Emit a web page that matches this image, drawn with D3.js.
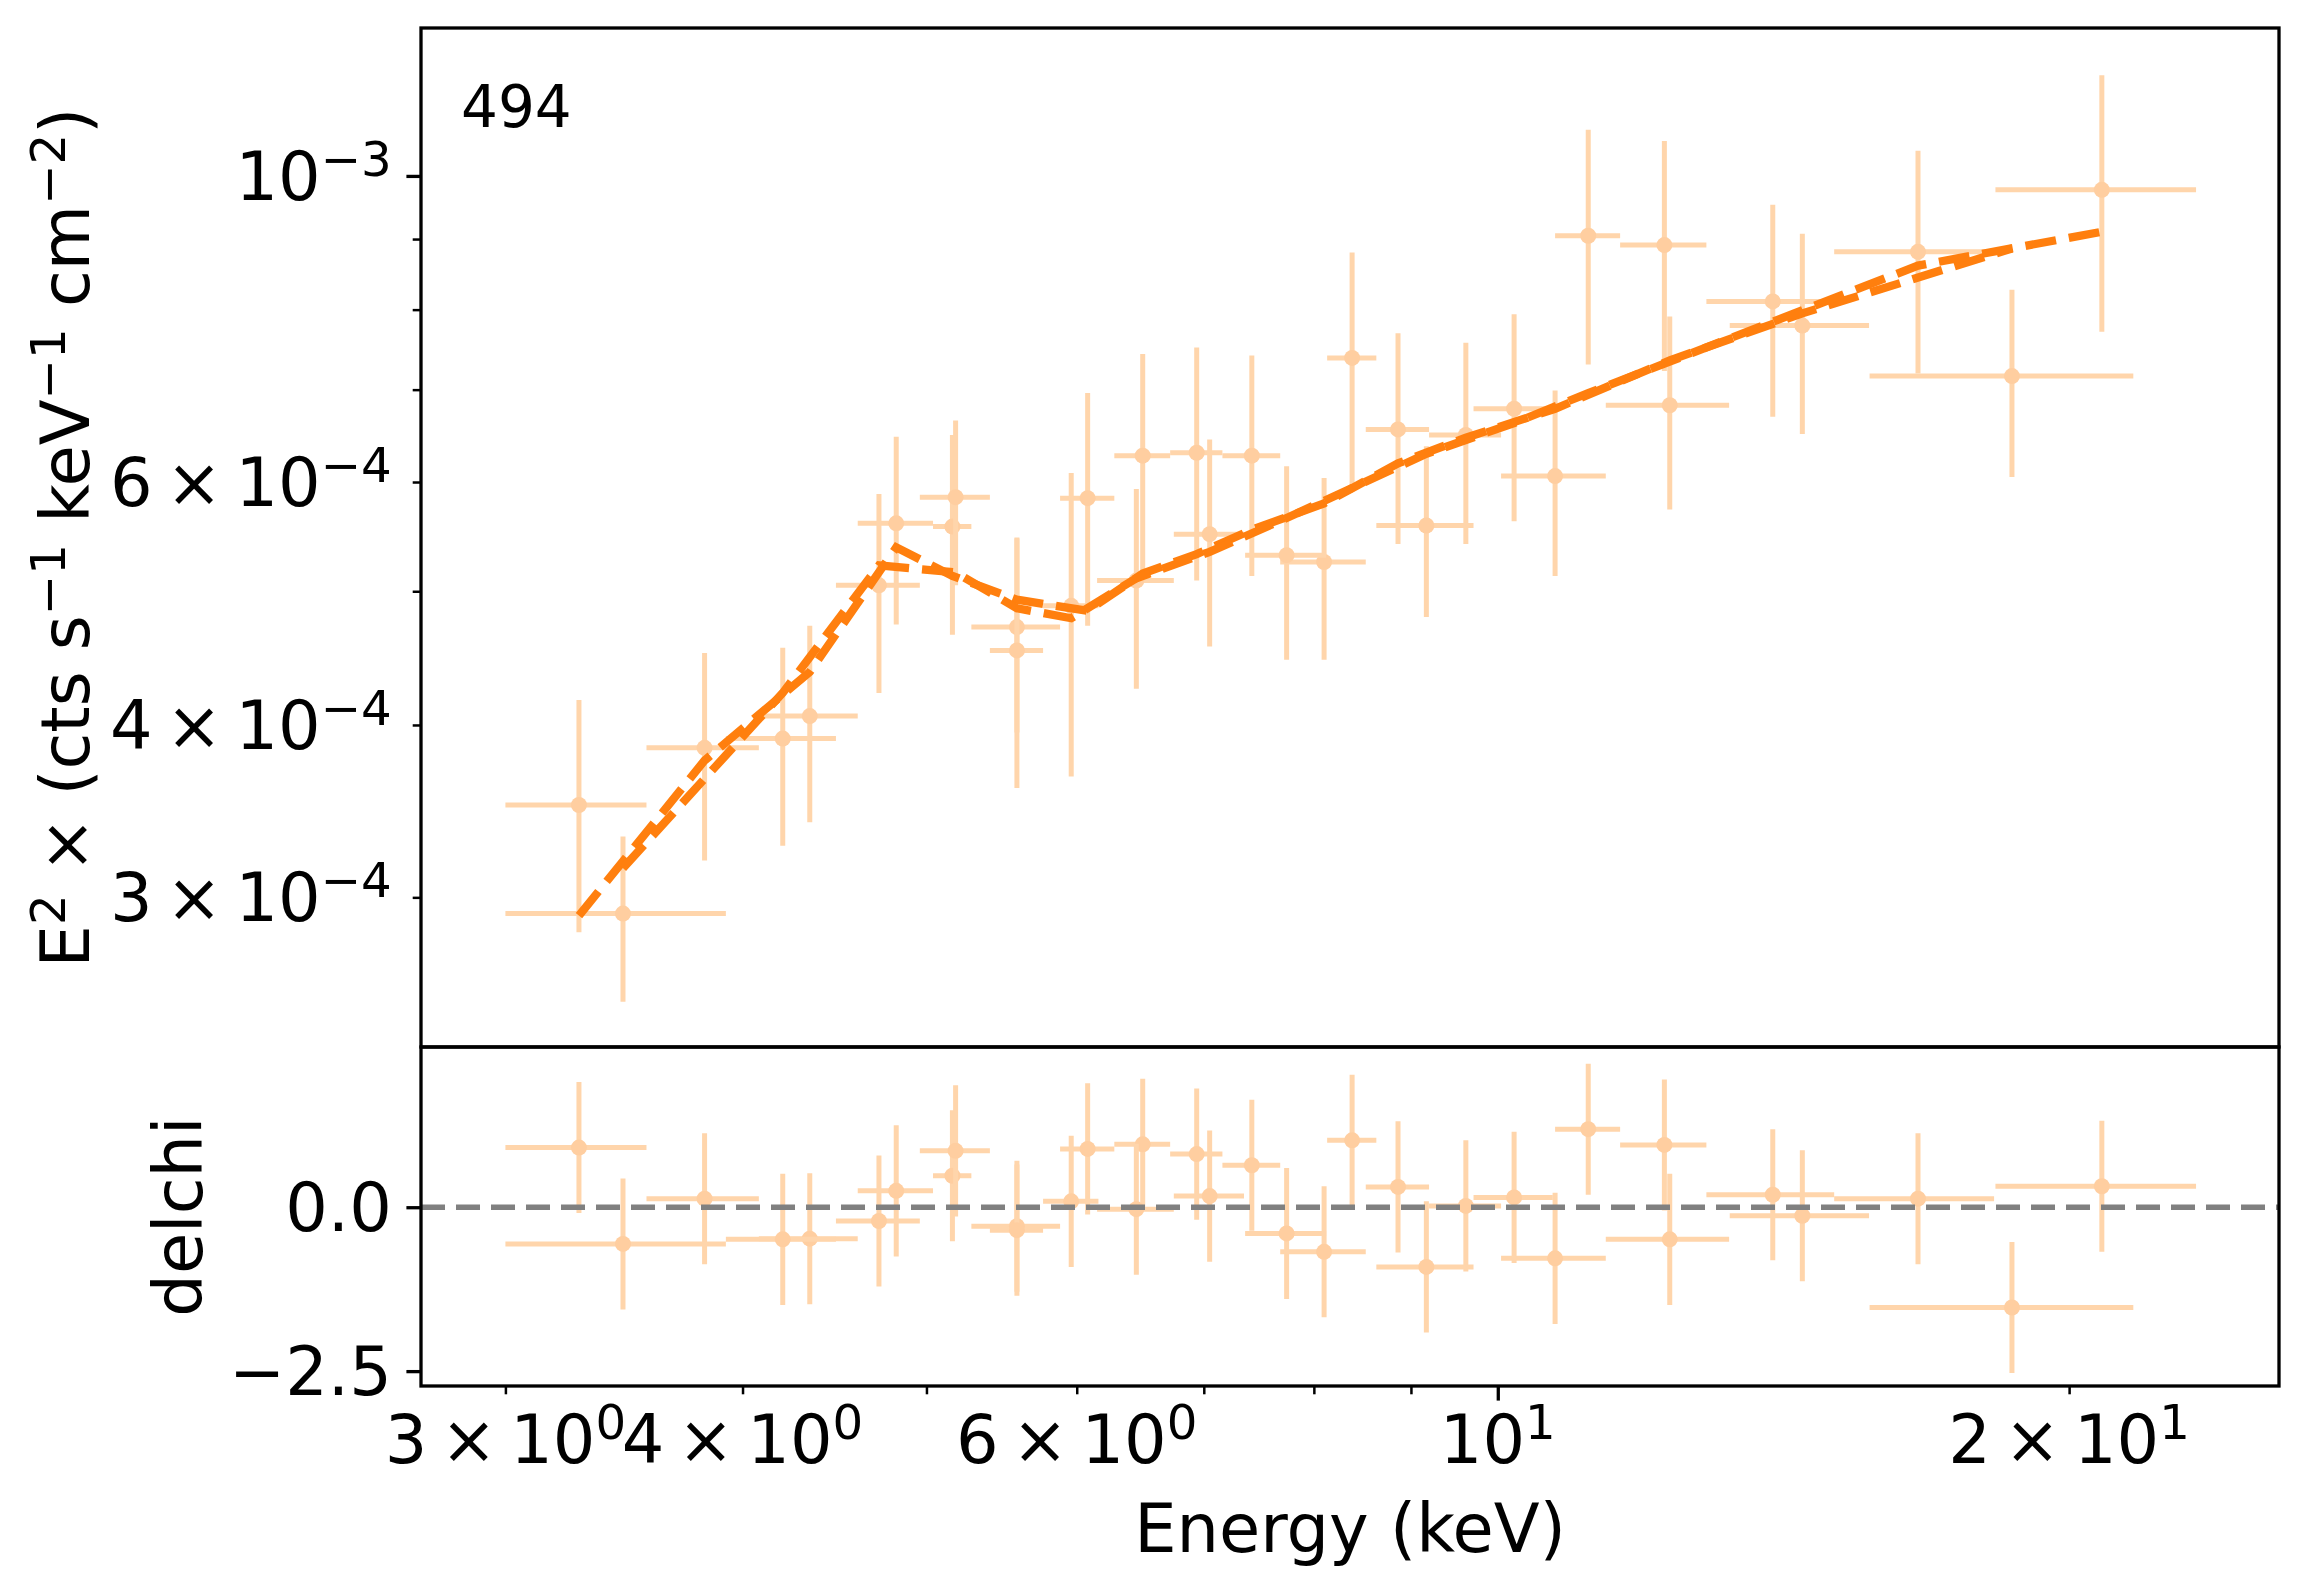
<!DOCTYPE html>
<html>
<head>
<meta charset="utf-8">
<script src="https://cdn.jsdelivr.net/npm/d3@7"></script>
<style>
  html, body { margin: 0; padding: 0; background: #fff; }
  svg { display: block; font-family: "DejaVu Sans", sans-serif; }
</style>
</head>
<body>
<svg id="chart" width="2310" height="1596"></svg>
<script>
'use strict';

// Spectrum A (bins joined by the first model line)
var energyA = [3.28, 3.82, 4.34, 4.82, 5.16, 5.58, 6.08, 6.50, 6.94, 7.42, 8.10, 8.86, 9.62, 10.72, 12.32, 14.47, 18.66];
var halfWidthA = [0.28, 0.26, 0.26, 0.22, 0.12, 0.30, 0.20, 0.22, 0.22, 0.26, 0.42, 0.34, 0.42, 0.68, 0.92, 1.22, 2.96];
var fluxA = [3.50e-4, 3.85e-4, 4.06e-4, 5.60e-4, 5.57e-4, 4.71e-4, 5.84e-4, 6.27e-4, 6.30e-4, 6.27e-4, 5.25e-4, 6.55e-4, 6.49e-4, 6.06e-4, 6.82e-4, 7.79e-4, 7.16e-4];
var fluxErrA = [0.67e-4, 0.66e-4, 0.66e-4, 0.87e-4, 0.92e-4, 0.76e-4, 1.12e-4, 1.16e-4, 1.21e-4, 1.14e-4, 0.79e-4, 1.14e-4, 1.08e-4, 0.93e-4, 1.09e-4, 1.29e-4, 1.11e-4];
var modelA = [2.91e-4, 3.77e-4, 4.37e-4, 5.38e-4, 5.13e-4, 4.93e-4, 4.84e-4, 5.15e-4, 5.32e-4, 5.54e-4, 5.79e-4, 6.19e-4, 6.46e-4, 6.78e-4, 7.35e-4, 7.95e-4, 8.86e-4];
var delchiA = [0.91, 0.13, -0.48, 0.25, 0.48, -0.29, 0.89, 0.96, 0.81, 0.64, -0.68, 0.31, 0.02, -0.78, -0.49, -0.13, -1.53];

// Spectrum B (bins joined by the second model line)
var energyB = [3.46, 4.20, 4.72, 5.18, 5.58, 5.96, 6.45, 7.05, 7.74, 8.38, 9.17, 10.20, 11.16, 12.24, 13.96, 16.65, 20.81];
var halfWidthB = [0.46, 0.28, 0.24, 0.22, 0.18, 0.20, 0.30, 0.30, 0.38, 0.25, 0.54, 0.49, 0.44, 0.64, 1.08, 1.61, 2.52];
var fluxB = [2.92e-4, 3.91e-4, 5.05e-4, 5.85e-4, 4.53e-4, 4.88e-4, 5.09e-4, 5.50e-4, 5.31e-4, 7.38e-4, 5.58e-4, 6.78e-4, 9.05e-4, 8.91e-4, 8.11e-4, 8.81e-4, 9.77e-4];
var fluxErrB = [0.40e-4, 0.64e-4, 0.83e-4, 0.80e-4, 0.93e-4, 1.21e-4, 0.84e-4, 0.94e-4, 0.85e-4, 1.42e-4, 0.79e-4, 1.16e-4, 1.75e-4, 1.69e-4, 1.42e-4, 1.62e-4, 2.06e-4];
var modelB = [3.15e-4, 4.22e-4, 5.22e-4, 5.16e-4, 4.86e-4, 4.78e-4, 5.11e-4, 5.34e-4, 5.65e-4, 5.94e-4, 6.29e-4, 6.62e-4, 6.96e-4, 7.31e-4, 7.84e-4, 8.61e-4, 9.11e-4];
var delchiB = [-0.56, -0.49, -0.21, 0.86, -0.35, 0.09, -0.03, 0.17, -0.40, 1.02, -0.91, 0.15, 1.19, 0.95, 0.19, 0.13, 0.32];

// Tick values and labels
var xMajorTicks = [10];
var xLabelTicks = [3, 4, 6, 10, 20];
var xLabelMant = ['3', '4', '6', '', '2'];
var xLabelExp = ['0', '0', '0', '1', '1'];
var xMinorTicks = [3, 4, 5, 6, 7, 8, 9, 20];

var yMajorTicks = [1e-3];
var yLabelTicks = [3e-4, 4e-4, 6e-4, 1e-3];
var yLabelMant = ['3', '4', '6', ''];
var yLabelExp = ['\u22124', '\u22124', '\u22124', '\u22123'];
var yMinorTicks = [3e-4, 4e-4, 5e-4, 6e-4, 7e-4, 8e-4, 9e-4];

var resTicks = [-2.5, 0];
var resTickText = ['\u22122.5', '0.0'];

var panelTag = '494';

// ---- layout ----
var L = 421, R = 2279, T = 28, M = 1047, B = 1386;
var FS = 67;          // tick / label font size
var MAJ = 14.6, MIN = 8.3, PAD = 14.6;
var dataColor = '#ffd5ab', markColor = '#ffcea0', modelColor = '#ff7f0e';

var svg = d3.select('#chart');
svg.append('rect').attr('width', 2310).attr('height', 1596).attr('fill', '#fff');

var x = d3.scaleLog().domain([2.708, 25.8]).range([L, R]);
var yMain = d3.scaleLog().domain([2.337e-4, 1.28e-3]).range([M, T]);
var yRes = d3.scaleLinear().domain([-2.727, 2.444]).range([B, M]);

var defs = svg.append('defs');
defs.append('clipPath').attr('id', 'clipMain')
    .append('rect').attr('x', L).attr('y', T).attr('width', R - L).attr('height', M - T);
defs.append('clipPath').attr('id', 'clipRes')
    .append('rect').attr('x', L).attr('y', M).attr('width', R - L).attr('height', B - M);

function rows(e, hw, v, err, mod) {
    return e.map(function(d, i) {
        return {e: d, hw: hw[i], v: v[i], err: err[i], m: mod ? mod[i] : null};
    });
}

var mainA = rows(energyA, halfWidthA, fluxA, fluxErrA, modelA);
var mainB = rows(energyB, halfWidthB, fluxB, fluxErrB, modelB);
var resA = rows(energyA, halfWidthA, delchiA, energyA.map(function() { return 1; }));
var resB = rows(energyB, halfWidthB, delchiB, energyB.map(function() { return 1; }));

function drawErrorbars(g, data, y) {
    var pts = g.append('g');
    pts.selectAll('line.xerr').data(data).enter().append('line')
        .attr('x1', function(d) { return x(d.e - d.hw); })
        .attr('x2', function(d) { return x(d.e + d.hw); })
        .attr('y1', function(d) { return y(d.v); })
        .attr('y2', function(d) { return y(d.v); })
        .attr('stroke', dataColor).attr('stroke-width', 5);
    pts.selectAll('line.yerr').data(data).enter().append('line')
        .attr('x1', function(d) { return x(d.e); })
        .attr('x2', function(d) { return x(d.e); })
        .attr('y1', function(d) { return y(d.v - d.err); })
        .attr('y2', function(d) { return y(d.v + d.err); })
        .attr('stroke', dataColor).attr('stroke-width', 5);
    pts.selectAll('circle').data(data).enter().append('circle')
        .attr('cx', function(d) { return x(d.e); })
        .attr('cy', function(d) { return y(d.v); })
        .attr('r', 8)
        .attr('fill', markColor);
}

// ---- main panel ----
var gMain = svg.append('g').attr('clip-path', 'url(#clipMain)');
drawErrorbars(gMain, mainA, yMain);
drawErrorbars(gMain, mainB, yMain);

var modelLine = d3.line()
    .x(function(d) { return x(d.e); })
    .y(function(d) { return yMain(d.m); });

[mainA, mainB].forEach(function(set) {
    gMain.append('path')
        .datum(set)
        .attr('d', modelLine)
        .attr('fill', 'none')
        .attr('stroke', modelColor)
        .attr('stroke-width', 8.3)
        .attr('stroke-dasharray', '31,13');
});

// ---- residual panel ----
var gRes = svg.append('g').attr('clip-path', 'url(#clipRes)');
drawErrorbars(gRes, resA, yRes);
drawErrorbars(gRes, resB, yRes);
gRes.append('line')
    .attr('x1', L).attr('x2', R)
    .attr('y1', yRes(0)).attr('y2', yRes(0))
    .attr('stroke', '#808080').attr('stroke-width', 5.5)
    .attr('stroke-dasharray', '24,11');

// ---- frames ----
[[T, M], [M, B]].forEach(function(p) {
    svg.append('rect')
        .attr('x', L).attr('y', p[0]).attr('width', R - L).attr('height', p[1] - p[0])
        .attr('fill', 'none').attr('stroke', '#000').attr('stroke-width', 3.3);
});

// ---- axes ----
function styleTicks(g, w) {
    g.select('.domain').remove();
    g.selectAll('.tick line').attr('stroke', '#000').attr('stroke-width', w);
    g.selectAll('.tick text').remove();
}

function powerLabel(g, mant, exp, anchor, size) {
    var t = g.append('text').attr('text-anchor', anchor).attr('font-size', size).attr('fill', '#000');
    t.append('tspan').text(mant ? mant + '\u2009\u00d7\u200910' : '10');
    t.append('tspan').attr('font-size', size * 0.72).attr('dy', -size * 0.36).text(exp);
    return t;
}

// x axis (bottom of residual panel)
var gxMin = svg.append('g').attr('transform', 'translate(0,' + B + ')')
    .call(d3.axisBottom(x).tickValues(xMinorTicks).tickSize(MIN).tickFormat(''));
styleTicks(gxMin, 2.5);
var gxMaj = svg.append('g').attr('transform', 'translate(0,' + B + ')')
    .call(d3.axisBottom(x).tickValues(xMajorTicks).tickSize(MAJ).tickFormat(''));
styleTicks(gxMaj, 3.3);

var gxLab = svg.append('g');
xLabelTicks.forEach(function(v, i) {
    var t = powerLabel(gxLab, xLabelMant[i], xLabelExp[i], 'middle', FS);
    t.attr('x', x(v)).attr('y', 1463);
});

// y axis main
var gyMin = svg.append('g').attr('transform', 'translate(' + L + ',0)')
    .call(d3.axisLeft(yMain).tickValues(yMinorTicks).tickSize(MIN).tickFormat(''));
styleTicks(gyMin, 2.5);
var gyMaj = svg.append('g').attr('transform', 'translate(' + L + ',0)')
    .call(d3.axisLeft(yMain).tickValues(yMajorTicks).tickSize(MAJ).tickFormat(''));
styleTicks(gyMaj, 3.3);

var gyLab = svg.append('g');
yLabelTicks.forEach(function(v, i) {
    var t = powerLabel(gyLab, yLabelMant[i], yLabelExp[i], 'end', FS);
    t.attr('x', L - MAJ - PAD).attr('y', yMain(v) + FS * 0.36);
});

// y axis residual
var gyRes = svg.append('g').attr('transform', 'translate(' + L + ',0)')
    .call(d3.axisLeft(yRes).tickValues(resTicks).tickSize(MAJ).tickFormat(''));
styleTicks(gyRes, 3.3);
resTicks.forEach(function(v, i) {
    svg.append('text')
        .attr('x', L - MAJ - PAD).attr('y', yRes(v) + FS * 0.36)
        .attr('text-anchor', 'end').attr('font-size', FS)
        .text(resTickText[i]);
});

// ---- axis labels ----
svg.append('text')
    .attr('x', (L + R) / 2).attr('y', 1552)
    .attr('text-anchor', 'middle').attr('font-size', FS)
    .text('Energy (keV)');

var yl = svg.append('text')
    .attr('transform', 'translate(89,' + ((T + M) / 2) + ') rotate(-90)')
    .attr('text-anchor', 'middle').attr('font-size', FS);
var up = -FS * 0.36, sup = FS * 0.72;
yl.append('tspan').text('E');
yl.append('tspan').attr('font-size', sup).attr('dy', up).text('2');
yl.append('tspan').attr('dy', -up).text(' \u00d7  (cts s');
yl.append('tspan').attr('font-size', sup).attr('dy', up).text('\u22121');
yl.append('tspan').attr('dy', -up).text(' keV');
yl.append('tspan').attr('font-size', sup).attr('dy', up).text('\u22121');
yl.append('tspan').attr('dy', -up).text(' cm');
yl.append('tspan').attr('font-size', sup).attr('dy', up).text('\u22122');
yl.append('tspan').attr('dy', -up).text(')');

svg.append('text')
    .attr('transform', 'translate(202,' + ((M + B) / 2) + ') rotate(-90)')
    .attr('text-anchor', 'middle').attr('font-size', FS)
    .text('delchi');

// panel tag
svg.append('text')
    .attr('x', 461).attr('y', 127)
    .attr('font-size', 58)
    .text(panelTag);
</script>
</body>
</html>
